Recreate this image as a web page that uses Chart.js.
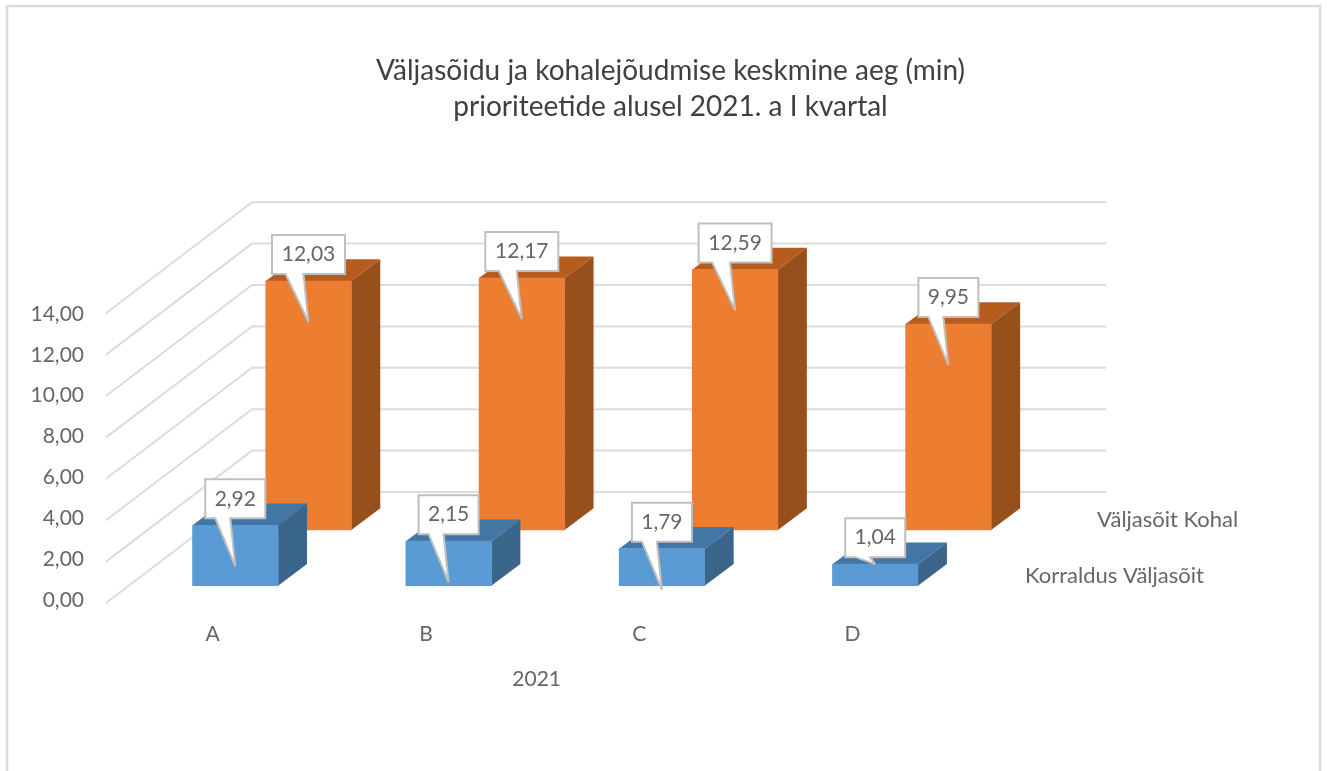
<!DOCTYPE html>
<html>
<head>
<meta charset="utf-8">
<title>Väljasõidu ja kohalejõudmise keskmine aeg</title>
<script src="https://cdn.jsdelivr.net/npm/chart.js@4/dist/chart.umd.min.js"></script>
<style>
  body { margin: 0; background: #fff; }
  canvas { display: block; }
</style>
</head>
<body>
<canvas id="chart" width="1327" height="771"></canvas>
<script>
// data
const categories = ['A', 'B', 'C', 'D'];
const korraldusValjasoit = [2.92, 2.15, 1.79, 1.04];
const valjasoitKohal = [12.03, 12.17, 12.59, 9.95];
const yTicks = [0, 2, 4, 6, 8, 10, 12, 14];
const titleLines = ['Väljasõidu ja kohalejõudmise keskmine aeg (min)', 'prioriteetide alusel 2021. a I kvartal'];
const yearLabel = '2021';

const FONT = 'Lato';
const TEXT = '#666666';
const GRID = '#dcdcdc';

// plot area on the canvas
const AREA = { left: 106, right: 1327, top: 314, bottom: 600 };
const BAR_UNIT = 20.7;   // px per minute of the 3d bars
const CAT_UNIT = 213.3;  // px per category
const DEPTH = { x: 29, y: -21.7 };
const WALL = { x: 146, y: -111, right: 1106 };

// the 3d look needs the series on shifted planes, so each one gets its own axes
function yRange(zeroPx) {
  const min = -(AREA.bottom - zeroPx) / BAR_UNIT;
  return { min: min, max: min + (AREA.bottom - AREA.top) / BAR_UNIT };
}
function xRange(zeroPx) {
  const min = (AREA.left - zeroPx) / CAT_UNIT;
  return { min: min, max: min + (AREA.right - AREA.left) / CAT_UNIT };
}
function hiddenAxis(range) {
  return { type: 'linear', display: false, offset: false, min: range.min, max: range.max, grid: { offset: false } };
}
function comma(v) {
  return v.toFixed(2).replace('.', ',');
}
function points(values) {
  return values.map(function (v, i) { return { x: i, y: v }; });
}

function drawFace(ctx, pts, color) {
  ctx.fillStyle = color;
  ctx.beginPath();
  pts.forEach(function (p, i) { i ? ctx.lineTo(p[0], p[1]) : ctx.moveTo(p[0], p[1]); });
  ctx.closePath();
  ctx.fill();
}

function drawCallout(ctx, bar, value) {
  const text = comma(value);
  ctx.font = '21px ' + FONT;
  const w = value >= 10 ? 73 : 60;
  const h = 39;
  const cx = bar.x;
  const bottom = bar.y - 7;
  const top = bottom - h;
  // the smallest bar has almost no room for the pointer
  const tipY = value < 1.5 ? bar.y : bar.y + 41;
  const baseL = cx - (value >= 10 ? 23 : 20);
  const baseR = cx - 5;

  ctx.beginPath();
  ctx.moveTo(cx - w / 2, top);
  ctx.lineTo(cx + w / 2, top);
  ctx.lineTo(cx + w / 2, bottom);
  ctx.lineTo(baseR, bottom);
  ctx.lineTo(cx, tipY);
  ctx.lineTo(baseL, bottom);
  ctx.lineTo(cx - w / 2, bottom);
  ctx.closePath();
  ctx.fillStyle = '#ffffff';
  ctx.fill();
  ctx.strokeStyle = '#bfbfbf';
  ctx.lineWidth = 2;
  ctx.lineJoin = 'miter';
  ctx.miterLimit = 3;
  ctx.stroke();

  ctx.fillStyle = TEXT;
  ctx.textAlign = 'center';
  ctx.textBaseline = 'middle';
  ctx.fillText(text, cx, top + h / 2);
}

const bars3d = {
  id: 'bars3d',
  beforeDraw(chart) {
    const ctx = chart.ctx;
    ctx.save();
    ctx.strokeStyle = GRID;
    ctx.lineWidth = 2.5;
    ctx.beginPath();
    ctx.moveTo(7, 771);
    ctx.lineTo(7, 6);
    ctx.lineTo(1320, 6);
    ctx.lineTo(1320, 771);
    ctx.stroke();
    ctx.restore();
  },
  beforeDatasetsDraw(chart) {
    // floor and back wall lines, front ends sit on the left, back ends on the wall
    const ctx = chart.ctx;
    const back = chart.scales.yOrange;
    ctx.save();
    ctx.strokeStyle = GRID;
    ctx.lineWidth = 2;
    yTicks.forEach(function (t) {
      const wallY = back.getPixelForValue(t) - 38;
      ctx.beginPath();
      ctx.moveTo(AREA.left, wallY - WALL.y);
      ctx.lineTo(AREA.left + WALL.x, wallY);
      ctx.lineTo(WALL.right, wallY);
      ctx.stroke();
    });
    ctx.restore();
  },
  beforeDatasetDraw(chart, args) {
    const ctx = chart.ctx;
    const ds = chart.data.datasets[args.index];
    args.meta.data.forEach(function (bar) {
      const l = bar.x - bar.width / 2;
      const r = bar.x + bar.width / 2;
      drawFace(ctx, [[l, bar.y], [r, bar.y], [r + DEPTH.x, bar.y + DEPTH.y], [l + DEPTH.x, bar.y + DEPTH.y]], ds.topColor);
      drawFace(ctx, [[r, bar.y], [r + DEPTH.x, bar.y + DEPTH.y], [r + DEPTH.x, bar.base + DEPTH.y], [r, bar.base]], ds.sideColor);
    });
  },
  afterDatasetsDraw(chart) {
    const ctx = chart.ctx;
    ctx.save();
    [1, 0].forEach(function (d) {
      chart.getDatasetMeta(d).data.forEach(function (bar, i) {
        drawCallout(ctx, bar, chart.data.datasets[d].data[i].y);
      });
    });
    // series names along the depth axis and the year under the categories
    ctx.fillStyle = TEXT;
    ctx.font = '22px ' + FONT;
    ctx.textAlign = 'left';
    ctx.textBaseline = 'middle';
    ctx.fillText(chart.data.datasets[1].label, 1097, 520);
    ctx.fillText(chart.data.datasets[0].label, 1025, 576);
    ctx.font = '21px ' + FONT;
    ctx.textAlign = 'center';
    ctx.fillText(yearLabel, chart.scales.x.getPixelForValue(1.5) + 4, 679);
    ctx.restore();
  }
};

new Chart(document.getElementById('chart'), {
  type: 'bar',
  data: {
    datasets: [
      {
        label: 'Korraldus Väljasõit',
        data: points(korraldusValjasoit),
        xAxisID: 'xBlue',
        yAxisID: 'yBlue',
        backgroundColor: '#5b9bd5',
        topColor: '#4375a5',
        sideColor: '#3a668c',
        barThickness: 85.5,
        grouped: false,
        clip: false
      },
      {
        label: 'Väljasõit Kohal',
        data: points(valjasoitKohal),
        xAxisID: 'xOrange',
        yAxisID: 'yOrange',
        backgroundColor: '#ed7d31',
        topColor: '#b65c1f',
        sideColor: '#974f1b',
        barThickness: 85.5,
        grouped: false,
        clip: false
      }
    ]
  },
  options: {
    responsive: false,
    animation: false,
    layout: { padding: { left: 14, right: 0, top: 0, bottom: 0 } },
    plugins: {
      legend: { display: false },
      tooltip: { enabled: false },
      title: {
        display: true,
        text: titleLines,
        color: '#404040',
        font: { family: FONT, size: 28, weight: 'normal', lineHeight: 1.286 },
        padding: { top: 53, bottom: 189 }
      }
    },
    scales: {
      x: {
        type: 'linear',
        offset: false,
        min: xRange(212.7).min,
        max: xRange(212.7).max,
        grid: { display: false, offset: false },
        border: { display: false },
        afterBuildTicks(scale) {
          scale.ticks = categories.map(function (c, i) { return { value: i }; });
        },
        afterFit(scale) { scale.height = 771 - AREA.bottom; },
        ticks: {
          autoSkip: false,
          maxRotation: 0,
          padding: 14,
          color: TEXT,
          font: { family: FONT, size: 21 },
          callback: function (v) { return categories[v]; }
        }
      },
      y: {
        type: 'linear',
        min: 0,
        max: 14,
        grid: { display: false },
        border: { display: false },
        afterBuildTicks(scale) {
          scale.ticks = yTicks.map(function (t) { return { value: t }; });
        },
        afterFit(scale) { scale.width = AREA.left - 14; },
        ticks: {
          padding: 14,
          color: TEXT,
          font: { family: FONT, size: 21 },
          callback: function (v) { return comma(v); }
        }
      },
      xBlue: hiddenAxis(xRange(235.3)),
      xOrange: hiddenAxis(xRange(308.5)),
      yBlue: hiddenAxis(yRange(585.7)),
      yOrange: hiddenAxis(yRange(530))
    }
  },
  plugins: [bars3d]
});
</script>
</body>
</html>
